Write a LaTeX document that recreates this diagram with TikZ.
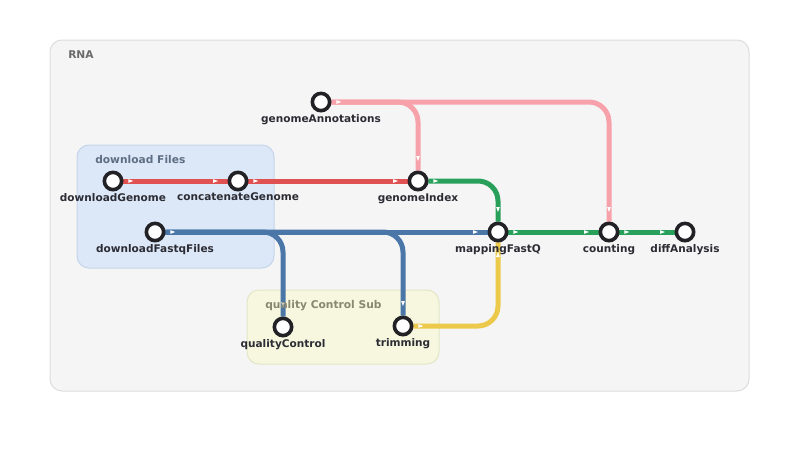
\documentclass[tikz,border=0pt]{standalone}
\usepackage{fontspec}
\usepackage{tikz}
\usetikzlibrary{decorations.markings}
\newfontfamily\metrofont{DejaVu Sans}

\definecolor{rimGray}{HTML}{222226}
\definecolor{textGray}{HTML}{2C2C34}
\definecolor{lnRed}{HTML}{E05252}
\definecolor{lnPink}{HTML}{F7A1AA}
\definecolor{lnGreen}{HTML}{28A05A}
\definecolor{lnBlue}{HTML}{4A77A8}
\definecolor{lnYellow}{HTML}{ECC94B}
\definecolor{rnaFill}{HTML}{F6F5F6}
\definecolor{rnaRim}{HTML}{DEDDDE}
\definecolor{dlFill}{HTML}{DCE8F8}
\definecolor{dlRim}{HTML}{C4D5EB}
\definecolor{qcFill}{HTML}{F6F7DE}
\definecolor{qcRim}{HTML}{E2E6C6}

\pgfdeclarelayer{boxes}
\pgfdeclarelayer{tracks}
\pgfsetlayers{boxes,tracks,main}

\begin{document}
\begin{tikzpicture}[x=0.75pt,y=-0.75pt,
    stationtext/.style={font=\metrofont\bfseries\fontsize{7.9}{9}\selectfont,
      text=textGray,inner sep=1pt},
    station/.style={circle,draw=rimGray,line width=2.7pt,fill=white,
      minimum size=13pt,inner sep=0pt,label distance=1.6pt},
    trackmark/.style={sharp corners,fill=white},
    track/.style={line width=3.75pt,rounded corners=15pt,
      postaction={decorate,decoration={markings,
        mark=at position 5.5pt with {\fill[trackmark] (-1.9pt,-1.4pt) -- (1.9pt,0) -- (-1.9pt,1.4pt) -- cycle;},
        mark=at position -9pt with {\fill[trackmark] (-1.9pt,-1.4pt) -- (1.9pt,0) -- (-1.9pt,1.4pt) -- cycle;}}}},
    groupbox/.style={line width=0.75pt,rounded corners=9pt},
    groupname/.style={font=\metrofont\bfseries\fontsize{8}{9}\selectfont,anchor=west,inner sep=0pt}]

  \useasboundingbox (0,0) rectangle (800,451);

  % Draw the group boxes
  \begin{pgfonlayer}{boxes}
    \fill[white] (0,0) rectangle (800,451);
    \draw[groupbox,draw=rnaRim,fill=rnaFill] (50,40) rectangle (749,391);
    \draw[groupbox,draw=dlRim,fill=dlFill] (77,145) rectangle (274,268);
    \draw[groupbox,draw=qcRim,fill=qcFill] (247,290) rectangle (439,364);
  \end{pgfonlayer}
  \node[groupname,text=black!58] (rnaName) at (68,55) {RNA};
  \node[groupname,text={rgb,255:red,94;green,110;blue,132}] (dlName) at (95,160) {download Files};
  \node[groupname,text={rgb,255:red,136;green,136;blue,112}] (qcName) at (265,306) {quality Control Sub};

  % Draw the stations
  \node[station,label={[stationtext]below:downloadGenome}] (dlGenome) at (113,181) {};
  \node[station,label={[stationtext]below:concatenateGenome}] (catGenome) at (238,181) {};
  \node[station,label={[stationtext]below:genomeAnnotations}] (gAnnot) at (321,102) {};
  \node[station,label={[stationtext]below:genomeIndex}] (gIndex) at (418,181) {};
  \node[station,label={[stationtext]below:downloadFastqFiles}] (dlFastq) at (155,232) {};
  \node[station,label={[stationtext]below:mappingFastQ}] (mapping) at (498,232) {};
  \node[station,label={[stationtext]below:counting}] (counting) at (609,232) {};
  \node[station,label={[stationtext]below:diffAnalysis}] (diffA) at (685,232) {};
  \node[station,label={[stationtext]below:qualityControl}] (qControl) at (283,327) {};
  \node[station,label={[stationtext]below:trimming}] (trimming) at (403,326) {};

  % Draw the tracks
  \begin{pgfonlayer}{tracks}
    \draw[track,lnPink] (gAnnot) -| (counting);
    \draw[track,lnPink] (gAnnot) -| (gIndex);
    \draw[track,lnRed] (dlGenome) -- (catGenome);
    \draw[track,lnRed] (catGenome) -- (gIndex);
    \draw[track,lnGreen] (gIndex) -| (mapping);
    \draw[track,lnGreen] (mapping) -- (counting);
    \draw[track,lnGreen] (counting) -- (diffA);
    \draw[track,lnYellow] (trimming) -| (mapping);
    \draw[track,lnBlue] (dlFastq) -| (qControl);
    \draw[track,lnBlue] (dlFastq) -| (trimming);
    \draw[track,lnBlue] (dlFastq) -- (mapping);
  \end{pgfonlayer}
\end{tikzpicture}
\end{document}
